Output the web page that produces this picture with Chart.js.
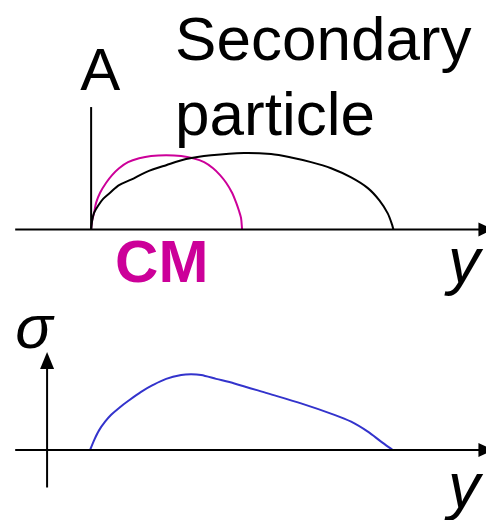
<!DOCTYPE html>
<html>
<head>
<meta charset="utf-8">
<script src="https://cdn.jsdelivr.net/npm/chart.js@4.4.0/dist/chart.umd.min.js"></script>
<style>
    body { margin: 0; background: #fff; }
    .panel { position: absolute; left: 0; width: 486px; }
    #top { top: 0; height: 300px; }
    #bottom { top: 300px; height: 220px; }
</style>
</head>
<body>
<div class="panel" id="top"><canvas id="topChart" width="486" height="300"></canvas></div>
<div class="panel" id="bottom"><canvas id="bottomChart" width="486" height="220"></canvas></div>
<script>
// Rapidity distributions (schematic)
const cmX = [0, 0.007, 0.02, 0.033, 0.059, 0.099, 0.138, 0.184, 0.243, 0.316, 0.395, 0.494,
             0.593, 0.672, 0.744, 0.803, 0.849, 0.889, 0.928, 0.955, 0.974, 0.987, 0.994];
const cmY = [0, 0.12, 0.22, 0.35, 0.48, 0.61, 0.71, 0.80, 0.88, 0.93, 0.96, 0.97,
             0.96, 0.93, 0.88, 0.80, 0.71, 0.61, 0.48, 0.35, 0.24, 0.15, 0];

const secX = [0, 0.007, 0.02, 0.046, 0.079, 0.125, 0.184, 0.263, 0.362, 0.494, 0.625, 0.79,
              1.007, 1.185, 1.317, 1.448, 1.58, 1.712, 1.822, 1.898, 1.953, 1.982, 1.99];
const secY = [0, 0.12, 0.22, 0.31, 0.40, 0.48, 0.58, 0.65, 0.75, 0.84, 0.92, 0.97,
              1.0, 0.985, 0.94, 0.88, 0.80, 0.68, 0.54, 0.38, 0.21, 0.06, 0];

const sigmaX = [-0.007, 0.02, 0.053, 0.092, 0.132, 0.184, 0.25, 0.329, 0.408, 0.494, 0.593,
                0.658, 0.724, 0.823, 0.943, 1.163, 1.382, 1.602, 1.712, 1.822, 1.909, 1.986];
const sigmaY = [0, 0.13, 0.26, 0.37, 0.46, 0.55, 0.65, 0.76, 0.85, 0.93, 0.98,
                0.99, 0.98, 0.93, 0.87, 0.74, 0.61, 0.46, 0.37, 0.24, 0.11, 0];

// Axis extents
const axisX = [-0.5, 2.6];
const lineA = [0, 1.6];        // vertical line under "A"
const sigmaAxisX = -0.29;
const sigmaAxisY = [-0.49, 1.28];

const toPoints = (xs, ys) => xs.map((x, i) => ({ x: x, y: ys[i] }));

// Draws arrow heads and labels through the chart scales
const decorPlugin = {
    id: 'decor',
    afterDatasetsDraw(chart, args, opts) {
        const ctx = chart.ctx;
        const xs = chart.scales.x;
        const ys = chart.scales.y;
        ctx.save();
        ctx.fillStyle = '#000';
        (opts.arrows || []).forEach(a => {
            const px = xs.getPixelForValue(a.x);
            const py = ys.getPixelForValue(a.y);
            ctx.beginPath();
            if (a.dir === 'right') {
                ctx.moveTo(px + 15, py);
                ctx.lineTo(px, py - 7);
                ctx.lineTo(px, py + 7);
            } else {
                ctx.moveTo(px, py);
                ctx.lineTo(px - 7, py + 17);
                ctx.lineTo(px + 7, py + 17);
            }
            ctx.closePath();
            ctx.fill();
        });
        (opts.labels || []).forEach(l => {
            ctx.font = l.font;
            ctx.fillStyle = l.color || '#000';
            ctx.textAlign = l.align || 'left';
            ctx.textBaseline = 'alphabetic';
            ctx.fillText(l.text, xs.getPixelForValue(l.x), ys.getPixelForValue(l.y));
        });
        ctx.restore();
    }
};

function lineSet(points, color, tension) {
    return {
        data: points,
        showLine: true,
        borderColor: color,
        borderWidth: 2,
        pointRadius: 0,
        tension: tension,
        clip: false
    };
}

function baseOptions(yMin, yMax, decor) {
    return {
        responsive: false,
        animation: false,
        events: [],
        layout: { padding: 0 },
        scales: {
            x: { type: 'linear', display: false, min: -0.6, max: 2.6 },
            y: { type: 'linear', display: false, min: yMin, max: yMax }
        },
        plugins: {
            legend: { display: false },
            tooltip: { enabled: false },
            decor: decor
        }
    };
}

new Chart(document.getElementById('topChart'), {
    type: 'scatter',
    data: {
        datasets: [
            lineSet(toPoints(axisX, [0, 0]), '#000', 0),
            lineSet(toPoints([0, 0], lineA), '#000', 0),
            lineSet(toPoints(secX, secY), '#000', 0.3),
            lineSet(toPoints(cmX, cmY), '#CC0099', 0.3)
        ]
    },
    options: baseOptions(-0.923, 3.0, {
        arrows: [{ x: 2.55, y: 0, dir: 'right' }],
        labels: [
            { text: 'Secondary', x: 0.553, y: 2.21, font: '62px "Liberation Sans", Arial, sans-serif' },
            { text: 'particle', x: 0.553, y: 1.23, font: '62px "Liberation Sans", Arial, sans-serif' },
            { text: 'A', x: 0.06, y: 1.82, align: 'center', font: '60px "Liberation Sans", Arial, sans-serif' },
            { text: 'CM', x: 0.158, y: -0.69, color: '#CC0099', font: 'bold 60px "Liberation Sans", Arial, sans-serif' },
            { text: 'y', x: 2.35, y: -0.70, font: 'italic 64px "Liberation Sans", Arial, sans-serif' }
        ]
    }),
    plugins: [decorPlugin]
});

new Chart(document.getElementById('bottomChart'), {
    type: 'scatter',
    data: {
        datasets: [
            lineSet(toPoints(axisX, [0, 0]), '#000', 0),
            lineSet(toPoints([sigmaAxisX, sigmaAxisX], [sigmaAxisY[0], sigmaAxisY[1] - 0.15]), '#000', 0),
            lineSet(toPoints(sigmaX, sigmaY), '#3333CC', 0.3)
        ]
    },
    options: baseOptions(-0.915, 1.961, {
        arrows: [
            { x: 2.55, y: 0, dir: 'right' },
            { x: sigmaAxisX, y: sigmaAxisY[1], dir: 'up' }
        ],
        labels: [
            { text: 'σ', x: -0.5, y: 1.33, font: 'italic 62px "Liberation Sans", Arial, sans-serif' },
            { text: 'y', x: 2.35, y: -0.76, font: 'italic 64px "Liberation Sans", Arial, sans-serif' }
        ]
    }),
    plugins: [decorPlugin]
});
</script>
</body>
</html>
